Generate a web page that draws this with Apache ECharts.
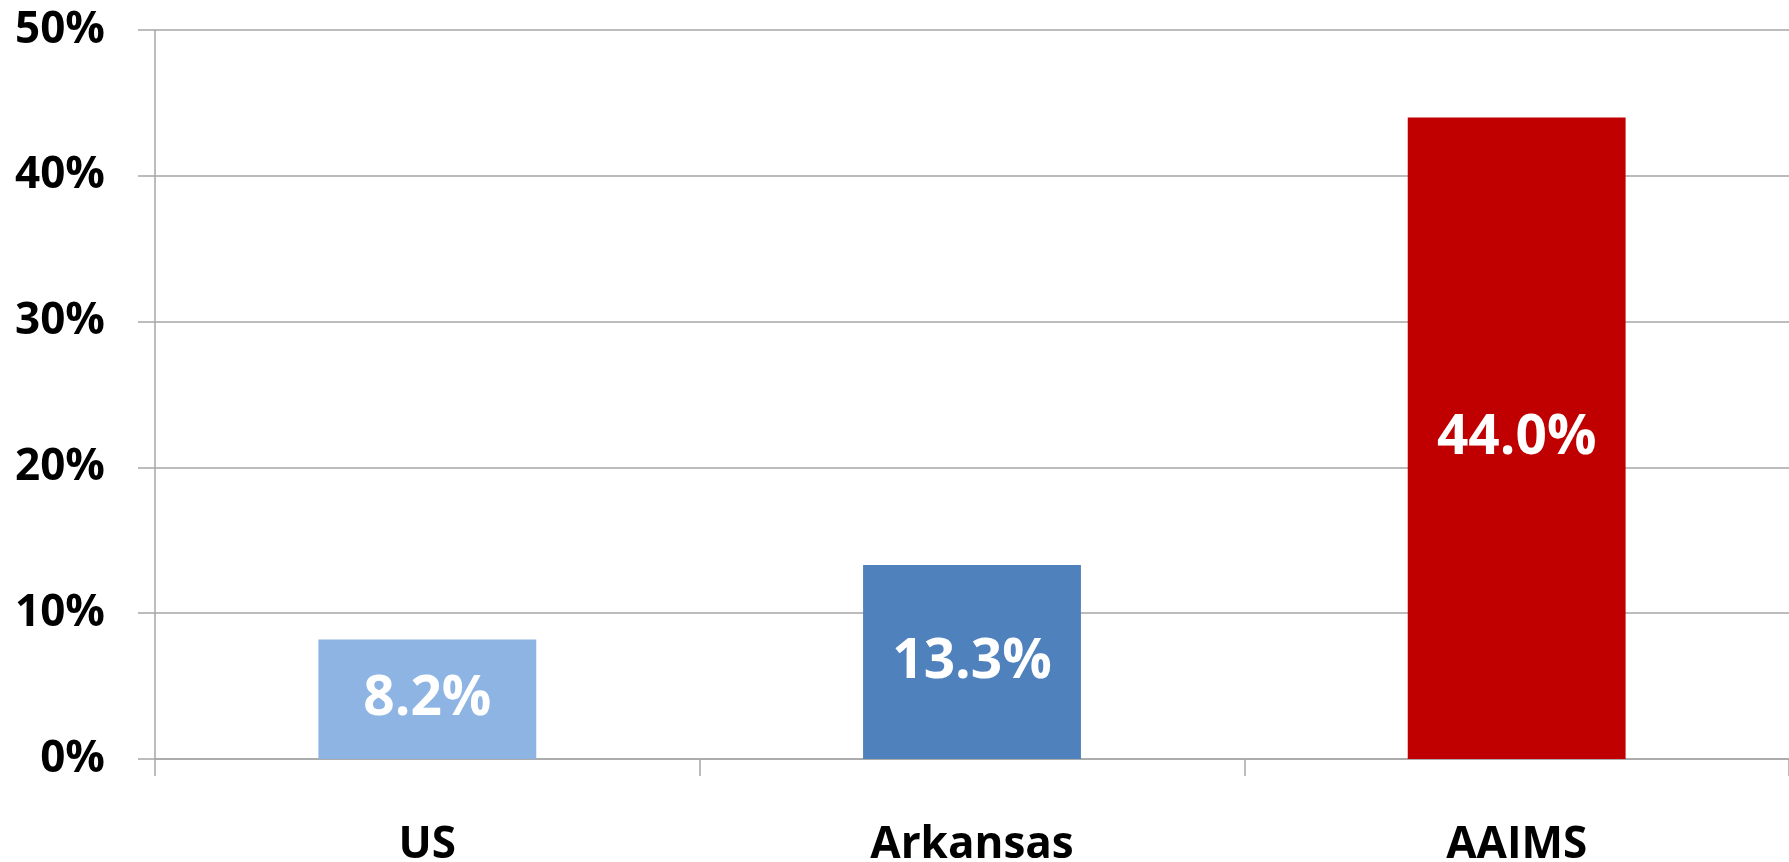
<!DOCTYPE html>
<html>
<head>
<meta charset="utf-8">
<style>
  html, body { margin: 0; padding: 0; background: #fff; }
  #chart { width: 1789px; height: 862px; }
</style>
<script src="https://cdn.jsdelivr.net/npm/echarts@6/dist/echarts.min.js"></script>
</head>
<body>
<div id="chart"></div>
<script>
const categories = ['US', 'Arkansas', 'AAIMS'];
const values = [8.2, 13.3, 44.0];
const barColors = ['#8EB4E3', '#4F81BD', '#C00000'];
const yTicks = [0, 10, 20, 30, 40, 50];

const chart = echarts.init(document.getElementById('chart'));
const font = '"Open Sans", "Liberation Sans", sans-serif';
const lineColor = '#a6a6a6';

chart.setOption({
  animation: false,
  backgroundColor: '#fff',
  grid: { left: 155, right: 0, top: 30, bottom: 103, outerBoundsMode: 'none' },
  xAxis: {
    type: 'category',
    data: categories,
    axisLine: { lineStyle: { color: lineColor, width: 1.5 } },
    axisTick: { show: true, length: 17, lineStyle: { color: lineColor, width: 1.5 } },
    axisLabel: {
      color: '#000', fontFamily: font, fontWeight: 'bold', fontSize: 44,
      verticalAlign: 'middle', margin: 86
    }
  },
  yAxis: {
    type: 'value',
    min: yTicks[0],
    max: yTicks[yTicks.length - 1],
    interval: 10,
    axisLine: { show: true, lineStyle: { color: lineColor, width: 1.5 } },
    axisTick: { show: true, length: 17, lineStyle: { color: lineColor, width: 1.5 } },
    splitLine: { lineStyle: { color: lineColor, width: 1.5 } },
    axisLabel: {
      color: '#000', fontFamily: font, fontWeight: 'bold', fontSize: 44,
      margin: 50, formatter: '{value}%'
    }
  },
  series: [{
    type: 'bar',
    barWidth: '40%',
    data: values.map((v, i) => ({ value: v, itemStyle: { color: barColors[i] } })),
    label: {
      show: true,
      position: 'inside',
      color: '#fff',
      fontFamily: font,
      fontWeight: 'bold',
      fontSize: 55,
      padding: [8, 0, 0, 0],
      formatter: p => p.value.toFixed(1) + '%'
    }
  }]
});
</script>
</body>
</html>
